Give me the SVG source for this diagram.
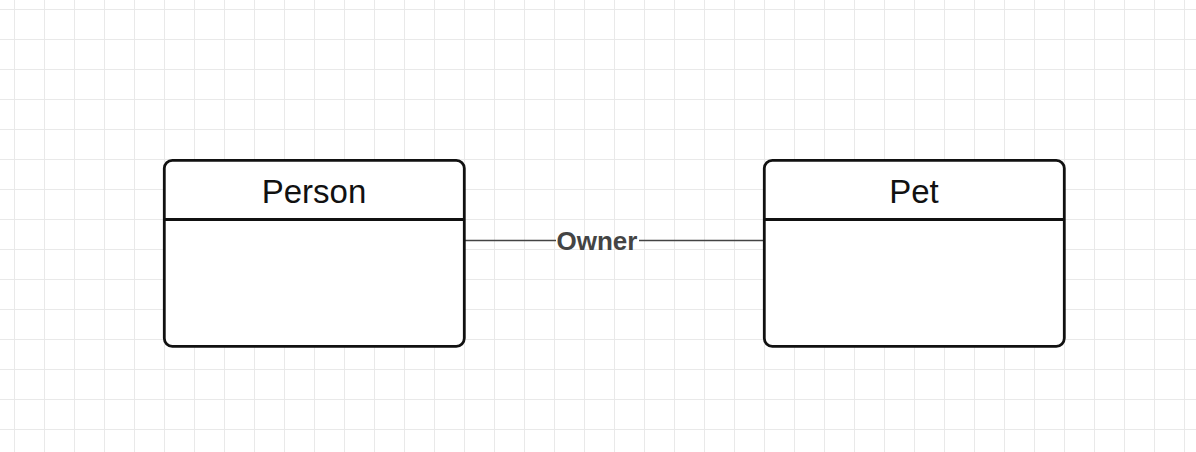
<svg xmlns="http://www.w3.org/2000/svg" width="1196" height="452" viewBox="0 0 1196 452">
<defs>
<pattern id="grid" x="0" y="0" width="30" height="30" patternUnits="userSpaceOnUse">
<path d="M14.5 0V30M0 9.5H30" stroke="#e9e9e9" stroke-width="1" fill="none"/>
</pattern>
</defs>
<style>
.box{fill:#fff;stroke:#111;stroke-width:2.8}
.div{stroke:#111;stroke-width:2.8}
.title{font-family:"Liberation Sans",Arial,sans-serif;font-size:33px;fill:#111;text-anchor:middle}
.conn{stroke:#444;stroke-width:1.5;fill:none}
.lbl{font-family:"Liberation Sans",Arial,sans-serif;font-size:26px;font-weight:bold;fill:#444;text-anchor:middle}
</style>
<rect width="1196" height="452" fill="#fff"/>
<rect width="1196" height="452" fill="url(#grid)"/>
<g id="connectors">
<path class="conn" d="M465 240.5H556M639 240.5H763"/>
<text class="lbl" x="597" y="249.5">Owner</text>
</g>
<g id="person">
<rect class="box" x="164.3" y="160.3" width="300" height="186" rx="8"/>
<line class="div" x1="164.3" y1="219.5" x2="464.3" y2="219.5"/>
<text class="title" x="314" y="203">Person</text>
</g>
<g id="pet">
<rect class="box" x="764.3" y="160.3" width="300" height="186" rx="8"/>
<line class="div" x1="764.3" y1="219.5" x2="1064.3" y2="219.5"/>
<text class="title" x="914" y="203">Pet</text>
</g>
</svg>
